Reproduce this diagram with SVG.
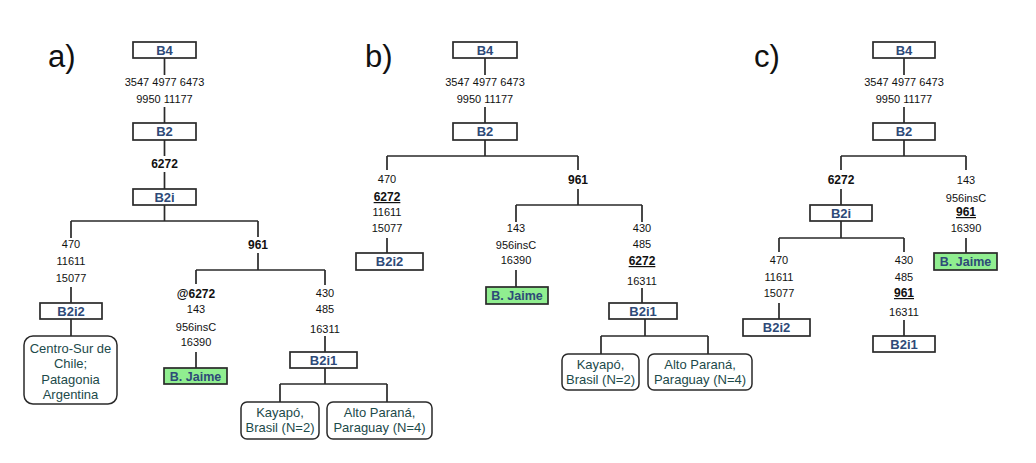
<svg xmlns="http://www.w3.org/2000/svg" width="1036" height="463" viewBox="0 0 1036 463">
<style>
.bg{fill:#fff}
.box{fill:#fff;stroke:#2a2a2a;stroke-width:1.7}
.jaime{fill:#90ee90;stroke:#2a2a2a;stroke-width:1.7}
.pop{fill:#fff;stroke:#2a2a2a;stroke-width:1.5}
.lbl{font-family:"Liberation Sans",Arial,sans-serif;font-weight:bold;font-size:13px;fill:#2e4a78;text-anchor:middle}
.poptx{font-family:"Liberation Sans",Arial,sans-serif;font-size:13px;fill:#1c4a4a;text-anchor:middle}
.num{font-family:"Liberation Sans",Arial,sans-serif;font-size:11px;fill:#111;text-anchor:middle}
.b{font-weight:bold;font-size:12px}
.u{text-decoration:underline}
.panel{font-family:"Liberation Sans",Arial,sans-serif;font-size:31px;fill:#111}
.c{fill:none;stroke:#2a2a2a;stroke-width:1.7}
</style>
<rect class="bg" width="1036" height="463"/>
<text class="panel" x="48" y="67">a)</text>
<text class="panel" x="365" y="67">b)</text>
<text class="panel" x="754" y="67">c)</text>

<g id="connectors">
<!-- panel a -->
<path class="c" d="M164.5 58V75M164.5 107V123M164.5 140V156M164.5 172V189M164.5 205V221M71 221H258M71 221V238M71 287V303M71 319V336M258 221V237M258 253V270M196 270H325M196 270V284M196 352V368M325 270V285M325 336V352M325 368V384M280 384H387M280 384V402M387 384V402"/>
<!-- panel b -->
<path class="c" d="M485 58V75M485 107V123M485 140V156M387 156H578M387 156V170M387 238V253M578 156V170M578 189V205M516 205H642M516 205V222M516 270V287M642 205V222M642 288V303M645 319V336M601 336H708M601 336V354M708 336V354"/>
<!-- panel c -->
<path class="c" d="M904 58V75M904 107V123M904 140V156M841 156H966M841 156V170M841 189V205M841 221V238M779 238H904M779 238V252M779 303V319M904 238V252M904 320V336M966 156V170M966 238V253"/>
</g>

<g id="a-B4"><rect class="box" x="133" y="42" width="63" height="16"/><text class="lbl" x="164.5" y="54.7">B4</text></g>
<g id="a-mut1"><text class="num" x="164.5" y="86">3547 4977 6473</text><text class="num" x="164.5" y="103">9950 11177</text></g>
<g id="a-B2"><rect class="box" x="133" y="123" width="63" height="17"/><text class="lbl" x="164.5" y="136.2">B2</text></g>
<g id="a-mut2"><text class="num b" x="164.5" y="168">6272</text></g>
<g id="a-B2i"><rect class="box" x="133" y="189" width="63" height="16"/><text class="lbl" x="164.5" y="201.7">B2i</text></g>
<g id="a-mut3"><text class="num" x="71" y="248">470</text><text class="num" x="71" y="265">11611</text><text class="num" x="71" y="282">15077</text></g>
<g id="a-B2i2"><rect class="box" x="40" y="303" width="62" height="16"/><text class="lbl" x="71" y="315.7">B2i2</text></g>
<g id="a-chile"><rect class="pop" x="24" y="336" width="93" height="68" rx="9"/><text class="poptx" x="70.5" y="353">Centro-Sur de</text><text class="poptx" x="70.5" y="368">Chile;</text><text class="poptx" x="70.5" y="384">Patagonia</text><text class="poptx" x="70.5" y="399">Argentina</text></g>
<g id="a-mut4"><text class="num b" x="258" y="249">961</text></g>
<g id="a-mut5"><text class="num b" x="196" y="298">@6272</text><text class="num" x="196" y="313">143</text><text class="num" x="196" y="331">956insC</text><text class="num" x="196" y="346">16390</text></g>
<g id="a-jaime"><rect class="jaime" x="164" y="368" width="63" height="16"/><text class="lbl" x="195.5" y="380.6" style="font-size:12.5px">B. Jaime</text></g>
<g id="a-mut6"><text class="num" x="325" y="297">430</text><text class="num" x="325" y="313">485</text><text class="num" x="325" y="333">16311</text></g>
<g id="a-B2i1"><rect class="box" x="290" y="352" width="67" height="16"/><text class="lbl" x="323.5" y="364.7">B2i1</text></g>
<g id="a-kayapo"><rect class="pop" x="241" y="402" width="78" height="37" rx="6"/><text class="poptx" x="280" y="417">Kayapó,</text><text class="poptx" x="280" y="432">Brasil (N=2)</text></g>
<g id="a-alto"><rect class="pop" x="327" y="402" width="105" height="37" rx="6"/><text class="poptx" x="379.5" y="417">Alto Paraná,</text><text class="poptx" x="379.5" y="432">Paraguay (N=4)</text></g>

<g id="b-B4"><rect class="box" x="453" y="42" width="64" height="16"/><text class="lbl" x="485" y="54.7">B4</text></g>
<g id="b-mut1"><text class="num" x="485" y="86">3547 4977 6473</text><text class="num" x="485" y="103">9950 11177</text></g>
<g id="b-B2"><rect class="box" x="453" y="123" width="64" height="17"/><text class="lbl" x="485" y="136.2">B2</text></g>
<g id="b-mut2"><text class="num" x="387" y="183">470</text><text class="num b u" x="387" y="201">6272</text><text class="num" x="387" y="216">11611</text><text class="num" x="387" y="232">15077</text></g>
<g id="b-B2i2"><rect class="box" x="356" y="253" width="67" height="17"/><text class="lbl" x="389.5" y="266.2">B2i2</text></g>
<g id="b-mut3"><text class="num b" x="578" y="184">961</text></g>
<g id="b-mut4"><text class="num" x="516" y="232">143</text><text class="num" x="516" y="249">956insC</text><text class="num" x="516" y="264">16390</text></g>
<g id="b-jaime"><rect class="jaime" x="486" y="287" width="62" height="17"/><text class="lbl" x="517" y="300.2" style="font-size:12.5px">B. Jaime</text></g>
<g id="b-mut5"><text class="num" x="642" y="232">430</text><text class="num" x="642" y="248">485</text><text class="num b u" x="642" y="265">6272</text><text class="num" x="642" y="285">16311</text></g>
<g id="b-B2i1"><rect class="box" x="609" y="303" width="68" height="16"/><text class="lbl" x="643" y="315.7">B2i1</text></g>
<g id="b-kayapo"><rect class="pop" x="562" y="354" width="77" height="36" rx="6"/><text class="poptx" x="600.5" y="369">Kayapó,</text><text class="poptx" x="600.5" y="384">Brasil (N=2)</text></g>
<g id="b-alto"><rect class="pop" x="648" y="354" width="104" height="36" rx="6"/><text class="poptx" x="700" y="369">Alto Paraná,</text><text class="poptx" x="700" y="384">Paraguay (N=4)</text></g>

<g id="c-B4"><rect class="box" x="873" y="42" width="62" height="16"/><text class="lbl" x="904" y="54.7">B4</text></g>
<g id="c-mut1"><text class="num" x="904" y="86">3547 4977 6473</text><text class="num" x="904" y="103">9950 11177</text></g>
<g id="c-B2"><rect class="box" x="873" y="123" width="62" height="17"/><text class="lbl" x="904" y="136.2">B2</text></g>
<g id="c-mut2"><text class="num b" x="841" y="184">6272</text></g>
<g id="c-B2i"><rect class="box" x="810" y="205" width="62" height="16"/><text class="lbl" x="841" y="217.7">B2i</text></g>
<g id="c-mut3"><text class="num" x="966" y="184">143</text><text class="num" x="966" y="202">956insC</text><text class="num b u" x="966" y="216">961</text><text class="num" x="966" y="232">16390</text></g>
<g id="c-jaime"><rect class="jaime" x="934" y="253" width="63" height="17"/><text class="lbl" x="965.5" y="266.2" style="font-size:12.5px">B. Jaime</text></g>
<g id="c-mut4"><text class="num" x="779" y="264">470</text><text class="num" x="779" y="281">11611</text><text class="num" x="779" y="297">15077</text></g>
<g id="c-B2i2"><rect class="box" x="743" y="319" width="67" height="17"/><text class="lbl" x="776.5" y="332.2">B2i2</text></g>
<g id="c-mut5"><text class="num" x="904" y="264">430</text><text class="num" x="904" y="281">485</text><text class="num b u" x="904" y="297">961</text><text class="num" x="904" y="316">16311</text></g>
<g id="c-B2i1"><rect class="box" x="873" y="336" width="62" height="16"/><text class="lbl" x="904" y="348.7">B2i1</text></g>
</svg>
